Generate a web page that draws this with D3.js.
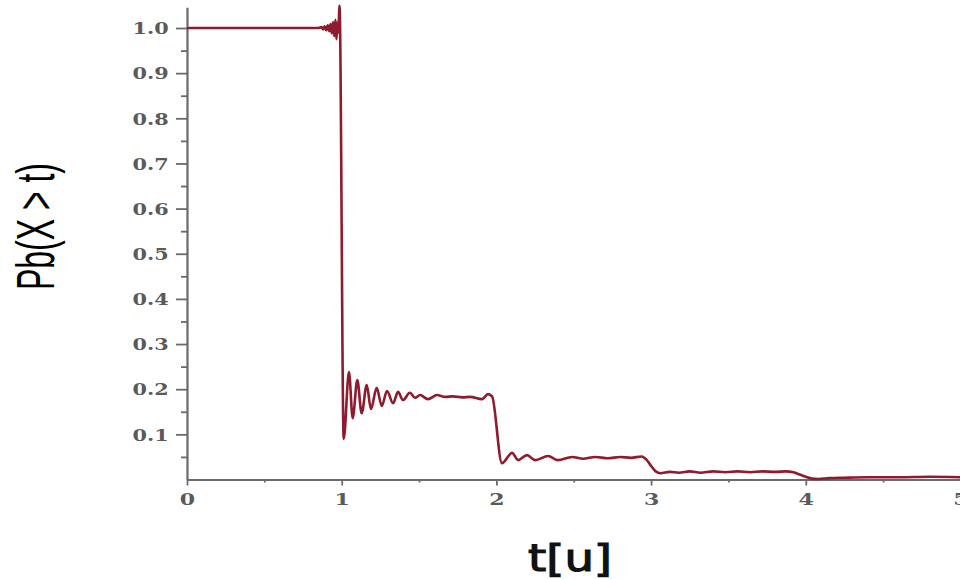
<!DOCTYPE html>
<html>
<head>
<meta charset="utf-8">
<script src="https://cdn.jsdelivr.net/npm/d3@7"></script>
<style>
  html, body { margin: 0; padding: 0; background: #fff; }
  svg { display: block; }
</style>
</head>
<body>
<svg id="chart" width="960" height="579"></svg>
<script>
// ---- data ----
const tValues = [
  0, 0.85, 0.87, 0.88, 0.89, 0.90, 0.91, 0.92, 0.928, 0.936, 0.944, 0.952, 0.96, 0.966, 0.972, 0.978, 0.986,
  1.013, 1.047, 1.071, 1.101, 1.129, 1.162, 1.189, 1.226, 1.259, 1.293, 1.332, 1.364, 1.396, 1.441, 1.474,
  1.506, 1.558, 1.616, 1.668, 1.72, 1.78, 1.83, 1.907, 1.946, 1.972,
  2.036, 2.101, 2.140, 2.198, 2.250, 2.334, 2.398, 2.489, 2.56, 2.64, 2.72, 2.80, 2.87, 2.94,
  2.97, 3.0, 3.03, 3.06, 3.12, 3.18, 3.25, 3.32, 3.40, 3.48, 3.56, 3.64, 3.72, 3.80, 3.87, 3.92,
  3.96, 4.0, 4.04, 4.08, 4.15, 4.25, 4.4, 4.6, 4.8, 5.0
];
const pValues = [
  1.0, 1.0, 1.002, 0.997, 1.004, 0.995, 1.006, 0.993, 1.009, 0.988, 1.013, 0.982, 1.018, 0.975, 1.012, 0.99, 1.049,
  0.090, 0.238, 0.136, 0.220, 0.147, 0.209, 0.156, 0.203, 0.163, 0.196, 0.169, 0.194, 0.176, 0.192, 0.181,
  0.187, 0.178, 0.187, 0.183, 0.184, 0.182, 0.183, 0.178, 0.189, 0.184,
  0.036, 0.059, 0.043, 0.054, 0.043, 0.052, 0.043, 0.050, 0.046, 0.050, 0.047, 0.050, 0.048, 0.051,
  0.044, 0.030, 0.018, 0.014, 0.017, 0.015, 0.018, 0.015, 0.018, 0.016, 0.018, 0.016, 0.018, 0.017, 0.018, 0.016,
  0.011, 0.006, 0.002, 0.001, 0.003, 0.004, 0.005, 0.005, 0.006, 0.005
];
const xMajorTicks = [0, 1, 2, 3, 4, 5];
const xMinorTicks = [0.5, 1.5, 2.5, 3.5, 4.5];
const yMajorTicks = [0.1, 0.2, 0.3, 0.4, 0.5, 0.6, 0.7, 0.8, 0.9, 1.0];
const yMinorTicks = [0.05, 0.15, 0.25, 0.35, 0.45, 0.55, 0.65, 0.75, 0.85, 0.95];
const xTitle = "t[u]";
const yTitle = "Pb(X > t)";

// ---- layout ----
const svg = d3.select("#chart");
const x = d3.scaleLinear().domain([0, 5]).range([187, 960.5]);
const y = d3.scaleLinear().domain([0, 1.046]).range([479.5, 479.5 - 1.046 * 451.5]);
const axisColor = "#6a6a6a";
const labelColor = "#5a5a5a";

// y axis
const gy = svg.append("g").attr("transform", `translate(${x(0)},0)`);
gy.call(d3.axisLeft(y).tickValues(yMajorTicks).tickSize(11).tickSizeOuter(0).tickFormat(d3.format(".1f")));
const gyMinor = svg.append("g").attr("transform", `translate(${x(0)},0)`);
gyMinor.call(d3.axisLeft(y).tickValues(yMinorTicks).tickSize(6).tickSizeOuter(0).tickFormat(""));
gyMinor.select(".domain").remove();

// x axis
const gx = svg.append("g").attr("transform", `translate(0,${y(0)})`);
gx.call(d3.axisBottom(x).tickValues(xMajorTicks).tickSize(6).tickSizeOuter(0).tickFormat(d3.format("d")));
const gxMinor = svg.append("g").attr("transform", `translate(0,${y(0)})`);
gxMinor.call(d3.axisBottom(x).tickValues(xMinorTicks).tickSize(3).tickSizeOuter(0).tickFormat(""));
gxMinor.select(".domain").remove();

[gy, gyMinor, gx, gxMinor].forEach(g => {
  g.selectAll(".domain").attr("stroke", axisColor).attr("stroke-width", 2.2);
  g.selectAll(".tick line").attr("stroke", axisColor).attr("stroke-width", 1.8);
});

gy.selectAll(".tick text")
  .attr("font-family", "DejaVu Serif, serif")
  .attr("font-size", 16)
  .attr("font-weight", "bold")
  .attr("fill", labelColor)
  .attr("x", -14)
  .attr("dy", "0.36em")
  .attr("transform", "scale(1.3,1)");

gx.selectAll(".tick text")
  .attr("font-family", "DejaVu Serif, serif")
  .attr("font-size", 17)
  .attr("font-weight", "bold")
  .attr("fill", labelColor)
  .attr("y", 0)
  .attr("dy", 0)
  .attr("transform", "translate(0,25) scale(1.3,1)");

// curve
const data = tValues.map((t, i) => [t, pValues[i]]);
svg.append("path")
  .datum(data)
  .attr("fill", "none")
  .attr("stroke", "#8e1b2e")
  .attr("stroke-width", 2.6)
  .attr("stroke-linejoin", "round")
  .attr("d", d3.line().x(d => x(d[0])).y(d => y(d[1])).curve(d3.curveMonotoneX));

// titles
svg.append("text")
  .attr("transform", "translate(54,226.5) rotate(-90)")
  .attr("text-anchor", "middle")
  .attr("font-family", "Liberation Sans, Arial, sans-serif")
  .attr("font-size", 54)
  .attr("textLength", 127)
  .attr("lengthAdjust", "spacingAndGlyphs")
  .attr("fill", "#000")
  .text(yTitle);

svg.append("text")
  .attr("x", 570)
  .attr("y", 571)
  .attr("text-anchor", "middle")
  .attr("font-family", "DejaVu Sans, sans-serif")
  .attr("font-size", 38)
  .attr("textLength", 84)
  .attr("lengthAdjust", "spacingAndGlyphs")
  .attr("fill", "#111")
  .attr("stroke", "#111")
  .attr("stroke-width", 1.2)
  .text(xTitle);
</script>
</body>
</html>
